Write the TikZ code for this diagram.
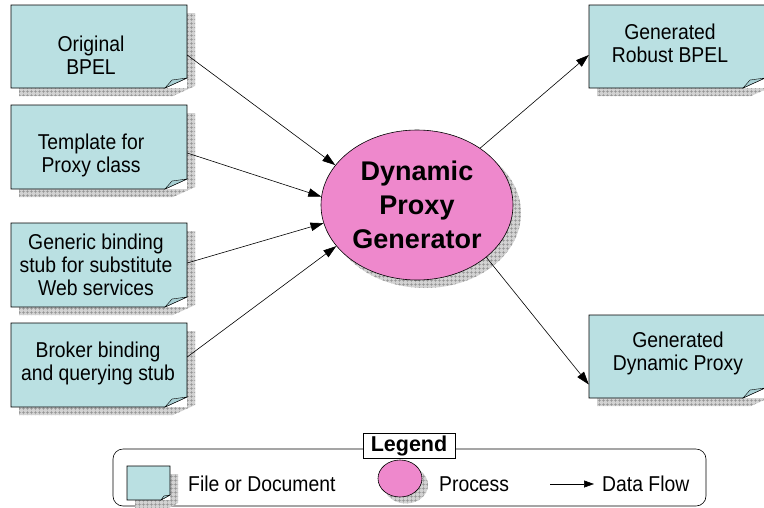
\documentclass[tikz,border=0pt]{standalone}
\usepackage{fontspec}
\setmainfont{Liberation Sans}
\newfontfamily\condfont{Liberation Sans}[FakeStretch=0.9]
\usetikzlibrary{shapes.geometric,arrows.meta,patterns.meta,fit}
\definecolor{docfill}{RGB}{186,224,226}
\definecolor{foldfill}{RGB}{168,208,212}
\definecolor{procfill}{RGB}{238,136,204}
\definecolor{shadowbg}{RGB}{210,210,210}
\definecolor{gridline}{RGB}{145,145,145}
\tikzset{
  docline/.style={draw=black, line width=0.6pt},
  shadowfill/.style={fill=shadowbg},
  shadowgrid/.style={pattern={Hatch[distance=4pt, angle=0, line width=0.45pt]}, pattern color=gridline},
  doctext/.style={align=center, font=\condfont\fontsize{21.5}{23}\selectfont, inner sep=0pt},
  flow/.style={draw=black, line width=0.6pt, -{Triangle[length=13pt,width=8.5pt]}},
  framebox/.style={inner sep=0pt, draw=none},
}
% #1 name, #2 x1, #3 y1, #4 x2, #5 y2, #6 fold width, #7 fold height, #8 shadow offset
\newcommand\mydocbox[8]{%
  \fill[shadowfill] ({#2+#8},{#3+#8}) -- ({#4+#8},{#3+#8}) -- ({#4+#8},{#5+#8-#7}) -- ({#4+#8-#6},{#5+#8}) -- ({#2+#8},{#5+#8}) -- cycle;
  \fill[shadowgrid] ({#2+#8},{#3+#8}) -- ({#4+#8},{#3+#8}) -- ({#4+#8},{#5+#8-#7}) -- ({#4+#8-#6},{#5+#8}) -- ({#2+#8},{#5+#8}) -- cycle;
  \fill[white] (#2,#3) rectangle (#4,#5);
  \filldraw[fill=docfill, docline] (#2,#3) -- (#4,#3) -- (#4,{#5-#7}) -- ({#4-#6},#5) -- (#2,#5) -- cycle;
  \filldraw[fill=foldfill, docline, line width=0.4pt] ({#4-#6},#5) -- ({#4-0.68*#6},{#5-0.8*#7}) -- (#4,{#5-#7}) -- cycle;
  \node[framebox, fit={(#2,#3) (#4,#5)}] (#1) {};
}
\begin{document}
\begin{tikzpicture}[x=1pt,y=-1pt]
\useasboundingbox (0,0) rectangle (764,507);

% documents on the left
\mydocbox{b1}{11}{5}{187}{88}{22}{10}{8}
\mydocbox{b2}{11}{105}{187}{189}{22}{10}{8}
\mydocbox{b3}{11}{223}{187}{307}{22}{10}{8}
\mydocbox{b4}{11}{323}{187}{407}{22}{10}{8}
% documents on the right
\mydocbox{r1}{589}{5}{765}{88}{22}{10}{8}
\mydocbox{r2}{589}{315}{765}{398}{22}{10}{8}

\node[doctext] (t1) at (91,55) {Original\\BPEL};
\node[doctext] (t2) at (91,155) {Template for\\Proxy class};
\node[doctext] (t3) at (96,265) {Generic binding\\stub for substitute\\Web services};
\node[doctext] (t4) at (98,363) {Broker binding\\and querying stub};
\node[doctext] (t5) at (670,43) {Generated\\Robust BPEL};
\node[doctext] (t6) at (678,353) {Generated\\Dynamic Proxy};

% process
\fill[shadowfill] (425,213) ellipse [x radius=96, y radius=75];
\fill[shadowgrid] (425,213) ellipse [x radius=96, y radius=75];
\node[ellipse, draw=black, line width=0.6pt, fill=procfill, minimum width=192pt, minimum height=150pt, inner sep=0pt,
      align=center, font=\fontsize{27}{34}\selectfont\bfseries] (gen) at (417,205) {Dynamic\\Proxy\\Generator};

% flows
\draw[flow] ([yshift=-8.5pt]b1.east) -- (gen.154);
\draw[flow] ([yshift=-6pt]b2.east) -- (gen.175);
\draw[flow] ([yshift=2pt]b3.east) -- (gen.191);
\draw[flow] ([yshift=8pt]b4.east) -- (gen.207);
\draw[flow] (gen.42) -- ([yshift=-8.5pt]r1.west);
\draw[flow] (gen.323) -- ([yshift=-28pt]r2.west);

% legend
\node[fit={(113,449) (706,506)}, inner sep=0pt, draw=black, line width=0.6pt, rounded corners=10pt] (legendframe) {};
\node[draw=black, fill=white, line width=0.6pt, inner sep=2pt, minimum width=92pt, minimum height=25pt,
      font=\fontsize{21.5}{24}\selectfont\bfseries] (legendtitle) at (409,446) {Legend};

\mydocbox{ld}{127}{466}{170}{500}{9}{5}{8}
\node[doctext, anchor=base west] (ldt) at (188,491) {File or Document};

\fill[shadowfill] (406,485) ellipse [x radius=22, y radius=18.5];
\fill[shadowgrid] (406,485) ellipse [x radius=22, y radius=18.5];
\node[ellipse, draw=black, line width=0.6pt, fill=procfill, minimum width=44pt, minimum height=37pt, inner sep=0pt] (lp) at (400,478.5) {};
\node[doctext, anchor=base west] (lpt) at (439,491) {Process};

\coordinate (la) at (550,484);
\coordinate (lb) at (594,484);
\node[doctext, anchor=base west] (lft) at (602,491) {Data Flow};
\draw[flow, -{Triangle[length=10pt,width=7pt]}] (la) -- (lb);
\end{tikzpicture}
\end{document}
